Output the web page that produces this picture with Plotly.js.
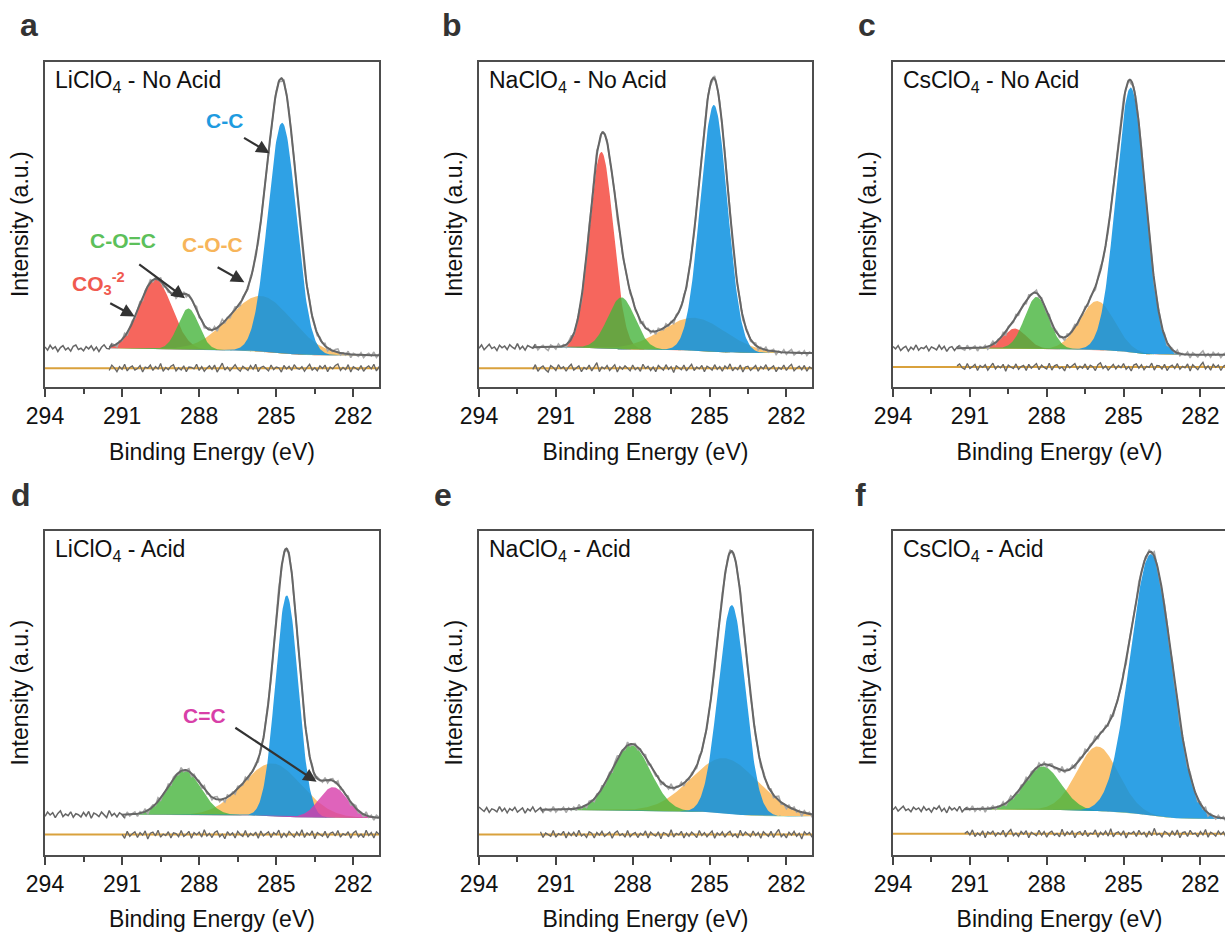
<!DOCTYPE html>
<html><head><meta charset="utf-8">
<script src="https://cdn.plot.ly/plotly-3.0.1.min.js"></script>
<style>html,body{margin:0;padding:0;overflow:hidden;background:#fff}</style>
</head><body><div id="chart" style="width:1230px;height:932px"></div>
<script>
// ---------------- data ----------------
const panelLetters = ['a','b','c','d','e','f'];
const panelTitles = ['LiClO<sub>4</sub> - No Acid','NaClO<sub>4</sub> - No Acid','CsClO<sub>4</sub> - No Acid',
                     'LiClO<sub>4</sub> - Acid','NaClO<sub>4</sub> - Acid','CsClO<sub>4</sub> - Acid'];
const xTicks = [294, 291, 288, 285, 282];
const xMinorTicks = [292.5, 289.5, 286.5, 283.5];
const xRange = [294, 281];

// fitted components: name, centre (eV), height (a.u.), FWHM (eV)
const peakNames   = [['CO3','C-O-C','C-O=C','C-C'], ['CO3','C-O-C','C-O=C','C-C'], ['CO3','C-O-C','C-O=C','C-C'],
                     ['C-O-C','C-O=C','C-C','C=C'], ['C-O-C','C-O=C','C-C'], ['C-O-C','C-O=C','C-C']];
const peakCenters = [[289.70,285.60,288.42,284.77], [289.22,285.60,288.44,284.83], [289.25,286.03,288.39,284.72],
                     [285.15,288.58,284.59,282.78], [284.40,288.06,284.13], [286.01,288.16,283.93]];
const peakHeights = [[21.4,17.0,12.7,71.0], [60.5,10.0,16.0,76.0], [6.1,15.0,16.0,81.6],
                     [16.2,13.7,68.4,9.5], [17.0,20.2,64.6], [20.0,13.4,80.8]];
const peakFwhm    = [[1.50,2.90,0.95,1.30], [1.10,3.00,1.25,1.25], [1.10,1.60,1.10,1.35],
                     [2.70,1.55,1.05,1.30], [3.10,1.80,1.24], [1.90,1.70,1.90]];
const fitStart      = [291.5, 291.9, 291.5, 291.0, 291.6, 291.2];
const bgHigh        = [11.8, 12.1, 11.8, 12.3, 13.8, 14.0];
const bgLow         = [9.6, 10.3, 9.8, 11.3, 11.8, 11.0];
const residualLevel = [5.65, 5.65, 6.0, 6.2, 6.2, 6.4];

// measured noise / fit residual, sampled every 0.1 eV from 294 eV
const noiseStart = 294, noiseStep = 0.1;
const noiseA = [0.4,-0.6,0.9,-0.2,0.5,-1.0,0.2,0.8,-0.5,0.1,-0.9,0.6,1.0,-0.4,0.0,-0.8,0.5,-0.2,0.7,-0.7,0.3,-1.1,0.2,0.9,
-0.3,-0.6,0.8,0.1,-0.9,0.4,-0.3,1.0,-0.7,0.2,0.6,-0.5,-0.1,0.7,-1.0,0.3,0.0,0.8,-0.6,0.4,-0.2,1.2,-0.8,0.2,
-0.4,0.5,0.9,-0.7,0.1,-0.5,0.6,-0.9,0.3,0.2,-0.2,1.0,-0.6,0.4,-0.8,0.0,0.6,-0.3,0.8,-1.0,0.2,1.3,-0.5,0.3,
-0.7,0.1,0.9,-0.2,-0.8,0.5,0.0,-0.6,0.7,-0.3,1.0,-0.9,0.2,0.5,-0.1,-0.7,0.8,-0.4,0.3,0.1,-1.0,0.7,-0.2,0.5,
-0.6,0.9,0.0,-0.3,0.4,-0.8,0.2,1.0,-0.5,0.1,-0.7,0.6,-0.1,0.8,-0.9,0.3,-0.2,0.7,1.1,-0.6,0.2,-0.4,0.9,-1.0,
0.4,0.0,-0.5,0.7,-0.8,0.1,0.6,-0.2,1.0,-0.7,0.3,-0.1];
const noiseB = [-0.3,0.7,-0.8,0.2,0.9,-0.4,0.1,-1.0,0.6,-0.2,0.4,-0.7,0.8,0.0,-0.5,1.1,-0.6,0.3,-0.9,0.5,0.2,-0.3,0.9,-0.8,
0.1,0.6,-0.4,-1.0,0.7,0.2,-0.6,0.9,-0.1,0.4,-0.8,0.3,1.0,-0.5,0.0,0.6,-0.9,0.2,-0.3,0.8,-0.7,0.5,1.4,-0.9,
0.3,-0.2,0.7,-0.6,0.1,0.9,-1.0,0.4,-0.3,0.6,0.0,-0.7,0.8,-0.4,0.2,-0.8,1.0,-0.1,0.5,-0.6,0.3,-0.9,0.7,0.1,
-0.5,0.9,-0.3,0.4,-1.1,0.6,0.0,-0.4,0.8,-0.7,0.2,1.0,-0.6,0.3,-0.2,0.7,-0.9,0.5,0.1,-0.5,0.9,-0.3,0.4,-0.8,
0.6,-0.1,1.1,-0.7,0.2,-0.4,0.8,-1.0,0.3,0.5,-0.6,0.0,0.7,-0.8,0.4,-0.2,0.9,-0.5,0.1,0.6,-0.9,0.2,-0.3,0.8,
-0.6,0.4,1.0,-0.7,0.0,0.5,-0.4,0.7,-0.8,0.3,-0.1,0.6];
const noiseC = [0.5,-0.2,0.8,-0.7,0.1,0.6,-0.9,0.3,-0.4,1.0,-0.6,0.2,-0.1,0.7,-0.8,0.4,0.0,-0.5,0.9,-0.3,0.6,-1.0,0.2,0.5,
-0.7,0.3,0.8,-0.2,-0.6,0.9,-0.4,0.1,0.7,-0.9,0.4,-0.1,0.6,-0.8,0.2,1.0,-0.5,0.3,-0.2,0.7,-1.1,0.5,0.0,-0.4,
0.8,-0.6,0.1,0.4,-0.9,0.7,-0.3,0.2,0.9,-0.7,0.5,-0.1,-0.5,1.0,-0.8,0.3,0.6,-0.4,0.0,-1.0,0.7,-0.2,0.4,0.9,
-0.6,0.2,-0.3,0.8,-0.7,0.5,0.1,-0.9,0.6,1.1,-0.4,0.3,-0.8,0.0,0.7,-0.5,0.4,-0.2,0.9,-0.6,0.1,-1.0,0.5,0.8,
-0.3,0.6,-0.7,0.2,-0.1,1.0,-0.8,0.4,0.3,-0.5,0.7,-0.9,0.1,0.5,-0.4,0.9,-0.6,0.2,-0.2,0.8,-1.0,0.6,0.0,-0.7,
0.4,1.2,-0.5,0.3,-0.8,0.7,-0.1,0.5,-0.9,0.2,0.6,-1.1];
const noiseD = [-0.5,0.8,-0.1,0.6,-0.9,0.4,1.2,-0.6,0.2,-0.3,0.9,-0.8,0.3,0.0,-0.7,0.7,-0.4,1.0,-1.1,0.5,0.1,-0.6,0.8,-0.2,
-0.9,1.3,-0.3,0.4,-0.7,0.6,0.0,-1.0,0.8,-0.5,0.2,0.7,-0.8,0.5,-0.2,0.9,-1.2,0.3,0.6,-0.4,1.1,-0.7,0.1,-0.3,
0.7,-0.9,0.4,0.2,-0.6,1.0,-0.5,0.0,0.8,-1.0,0.5,-0.1,0.6,-0.7,1.2,-0.4,0.3,-0.8,0.5,0.9,-0.6,0.1,-1.1,0.7,
-0.2,0.4,-0.9,0.8,0.0,-0.5,1.0,-0.7,0.3,-0.3,0.6,-1.0,0.9,-0.4,0.2,0.7,-0.8,0.5,-0.1,1.1,-0.9,0.3,-0.6,0.8,
0.0,-0.7,0.6,-0.3,1.2,-0.8,0.4,-0.2,0.9,-1.1,0.5,0.1,-0.5,0.8,-0.9,0.3,0.6,-0.4,1.0,-0.7,0.2,-0.2,0.7,-1.0,
0.4,0.9,-0.6,0.1,-0.8,1.1,-0.3,0.5,-0.9,0.7,0.2,-0.5];
const noiseE = [0.9,0.2,-0.5,0.7,-0.8,0.3,0.0,-0.6,1.0,-0.4,0.5,-0.9,0.4,-0.2,0.8,-0.7,0.1,0.6,-1.0,0.3,-0.3,0.9,-0.6,0.2,
0.7,-0.8,0.4,0.0,-0.5,1.0,-0.7,0.2,-0.1,0.8,-0.9,0.5,-0.3,0.6,-0.6,1.1,-0.4,0.1,-0.8,0.7,0.3,-0.9,0.5,-0.2,
0.8,-0.5,0.0,0.6,-1.0,0.4,0.9,-0.3,0.2,-0.7,1.0,-0.6,0.1,0.5,-0.8,0.3,-0.2,0.9,-0.9,0.6,0.0,-0.4,0.7,-1.1,
0.5,0.2,-0.6,1.2,-0.7,0.3,-0.1,0.8,-0.9,0.4,-0.5,0.6,0.0,-0.8,1.0,-0.3,0.5,-0.6,0.2,0.9,-1.0,0.4,-0.2,0.7,
-0.7,0.3,0.8,-0.5,0.1,-0.9,1.1,-0.4,0.6,-0.1,-0.6,0.9,-0.3,0.5,-1.0,0.7,0.2,-0.5,0.8,-0.8,0.4,1.3,-0.6,0.1,
-0.9,0.6,-0.2,0.8,-0.5,0.3,-1.2,0.7,0.0,0.5,-0.7,0.4];
const noiseF = [-0.2,0.7,-0.6,0.3,0.9,-0.4,0.1,-0.8,0.6,-0.1,0.4,-0.7,0.8,-0.3,0.2,-0.9,0.5,0.0,1.0,-0.6,0.3,-1.1,0.7,-0.2,
0.4,-0.5,0.9,-0.8,0.1,0.6,-0.3,1.0,-0.7,0.2,-0.4,0.8,-1.0,0.5,0.0,0.7,-0.6,0.3,-0.2,0.9,-0.8,0.4,1.1,-0.5,
0.2,-0.7,0.6,-0.1,0.8,-1.0,0.4,0.0,-0.5,0.9,-0.3,0.6,-0.9,0.3,0.7,-0.4,0.1,-0.8,1.2,-0.6,0.5,-0.2,0.8,-1.0,
0.3,0.6,-0.5,0.9,-0.7,0.2,-0.1,1.0,-0.9,0.4,-0.3,0.7,-0.6,1.3,-0.8,0.2,0.5,-0.4,0.8,-1.1,0.3,0.0,0.6,-0.7,
0.9,-0.2,0.4,-0.9,0.7,-0.5,1.4,-0.3,0.1,-0.8,0.6,0.2,-0.6,0.8,-0.4,1.0,-1.0,0.3,0.5,-0.7,0.9,-0.1,0.2,-0.8,
0.6,-0.3,1.1,-0.9,0.4,0.0,-0.6,0.7,-0.2,0.5,-1.0,0.3];
const panelNoise = [noiseA, noiseB, noiseC, noiseD, noiseE, noiseF];

// ---------------- styles ----------------
const peakFill = {'CO3':'rgba(245,75,65,0.85)','C-O-C':'rgba(250,180,80,0.8)','C-O=C':'rgba(70,180,60,0.8)',
                  'C-C':'rgba(10,145,225,0.85)','C=C':'rgba(215,60,170,0.8)'};
const drawOrder = ['CO3','C-O-C','C-O=C','C-C','C=C'];
const FONT = 'Liberation Sans, Arial, Helvetica, sans-serif';
const W = 1230, H = 932;
const colL = [45, 479, 893], colR = [379, 812, 1226];
const rowT = [62, 531], rowB = [386.5, 854.5];
const letterX = [29, 452, 867, 21, 443, 860], letterY = [25, 25, 25, 495, 495, 495];

// ---------------- helpers ----------------
const LN2 = Math.log(2);
function gauss(x, c, h, w){ return h*Math.exp(-4*LN2*(x-c)*(x-c)/(w*w)); }
function erf(x){const s=Math.sign(x);x=Math.abs(x);const t=1/(1+0.3275911*x);
  const y=1-(((((1.061405429*t-1.453152027)*t)+1.421413741)*t-0.284496736)*t+0.254829592)*t*Math.exp(-x*x);return s*y;}
function areaFromLow(x, p){ // integrated component intensity between low-BE end and x
  let a=0; const lo=xRange[1];
  for(let k=0;k<peakCenters[p].length;k++){
    const c=peakCenters[p][k],h=peakHeights[p][k],w=peakFwhm[p][k],kk=2*Math.sqrt(LN2)/w;
    a+=h*Math.sqrt(Math.PI)/(2*kk)*(erf(kk*(x-c))-erf(kk*(lo-c)));
  }
  return a;
}
function background(x, p){ // Shirley-type background
  const tot=areaFromLow(fitStart[p],p);
  const f=Math.min(1,Math.max(0,areaFromLow(x,p)/tot));
  return bgLow[p]+(bgHigh[p]-bgLow[p])*f;
}
function envelope(x,p){ let s=background(x,p); for(let k=0;k<peakCenters[p].length;k++) s+=gauss(x,peakCenters[p][k],peakHeights[p][k],peakFwhm[p][k]); return s; }

const traces=[], annotations=[], layout={};
for(let p=0;p<6;p++){
  const r=Math.floor(p/3), c=p%3, sfx=p===0?'':String(p+1);
  const xa='x'+sfx, ya='y'+sfx;
  const fine=[]; for(let e=fitStart[p]; e>=xRange[1]-1e-9; e-=0.025) fine.push(e);
  const bgF=fine.map(e=>background(e,p));
  const nz=panelNoise[p];
  const xs=nz.map((v,i)=>noiseStart-noiseStep*i);
  const fitIdx=xs.map((e,i)=>i).filter(i=>xs[i]<=fitStart[p]+1e-9);
  const preIdx=xs.map((e,i)=>i).filter(i=>xs[i]>=fitStart[p]-noiseStep-1e-9);
  // residual band
  const rx=fitIdx.map(i=>xs[i]), ry=fitIdx.map(i=>residualLevel[p]+1.2*nz[i]);
  traces.push({x:rx.concat(rx.slice().reverse()), y:ry.concat(rx.map(()=>residualLevel[p])), xaxis:xa, yaxis:ya,
    mode:'lines', fill:'toself', fillcolor:'rgba(250,190,100,0.5)', line:{width:0}, hoverinfo:'skip', showlegend:false});
  traces.push({x:xRange.slice(), y:[residualLevel[p],residualLevel[p]], xaxis:xa, yaxis:ya, mode:'lines',
    line:{color:'#d9a13c',width:2}, hoverinfo:'skip', showlegend:false});
  traces.push({x:rx, y:ry, xaxis:xa, yaxis:ya, mode:'lines', line:{color:'#666',width:1.3}, hoverinfo:'skip', showlegend:false});
  // components
  const order=peakNames[p].map((n,k)=>k).sort((a,b)=>drawOrder.indexOf(peakNames[p][a])-drawOrder.indexOf(peakNames[p][b]));
  for(const k of order){
    const top=fine.map((e,i)=>bgF[i]+gauss(e,peakCenters[p][k],peakHeights[p][k],peakFwhm[p][k]));
    traces.push({x:fine.concat(fine.slice().reverse()), y:top.concat(bgF.slice().reverse()), xaxis:xa, yaxis:ya,
      mode:'lines', fill:'toself', fillcolor:peakFill[peakNames[p][k]], line:{width:0}, hoverinfo:'skip', showlegend:false});
  }
  // raw data
  traces.push({x:rx, y:fitIdx.map(i=>envelope(xs[i],p)+nz[i]), xaxis:xa, yaxis:ya, mode:'lines',
    line:{color:'#a9a9a9',width:1.6}, hoverinfo:'skip', showlegend:false});
  traces.push({x:preIdx.map(i=>xs[i]), y:preIdx.map(i=>envelope(xs[i],p)+nz[i]), xaxis:xa, yaxis:ya, mode:'lines',
    line:{color:'#666',width:1.5}, hoverinfo:'skip', showlegend:false});
  // fit envelope
  traces.push({x:fine, y:fine.map(e=>envelope(e,p)), xaxis:xa, yaxis:ya, mode:'lines',
    line:{color:'#666',width:2}, hoverinfo:'skip', showlegend:false});

  layout['xaxis'+sfx]={domain:[colL[c]/W,colR[c]/W], anchor:ya, range:xRange, tickmode:'array', tickvals:xTicks,
    ticks:'outside', ticklen:8, tickwidth:2, tickcolor:'#444', showline:true, linecolor:'#4d4d4d', linewidth:2, mirror:true,
    showgrid:false, zeroline:false, automargin:false, tickfont:{family:FONT,size:23,color:'#111'},
    minor:{tickmode:'array', tickvals:xMinorTicks, ticks:'outside', ticklen:5, tickwidth:2, tickcolor:'#444', showgrid:false},
    title:{text:'Binding Energy (eV)', font:{family:FONT,size:23,color:'#111'}, standoff:16}};
  layout['yaxis'+sfx]={domain:[1-rowB[r]/H,1-rowT[r]/H], anchor:xa, range:[0,100], showticklabels:false, ticks:'',
    showline:true, linecolor:'#4d4d4d', linewidth:2, mirror:true, showgrid:false, zeroline:false, automargin:false,
    title:{text:'Intensity (a.u.)', font:{family:FONT,size:23,color:'#111'}, standoff:8}};
  annotations.push({xref:xa+' domain', yref:ya+' domain', x:0.025, y:0.94, xanchor:'left', yanchor:'middle',
    text:panelTitles[p], showarrow:false, font:{family:FONT,size:23,color:'#111'}});
  annotations.push({xref:'paper', yref:'paper', x:letterX[p]/W, y:1-letterY[p]/H, xanchor:'center', yanchor:'middle',
    text:'<b>'+panelLetters[p]+'</b>', showarrow:false, font:{family:FONT,size:32,color:'#333'}});
}

// peak labels with arrows (panels a and d)
function label(xa,ya,x,y,text,color){annotations.push({xref:xa,yref:ya,x:x,y:y,text:'<b>'+text+'</b>',showarrow:false,
  font:{family:FONT,size:21,color:color}});}
function arrow(xa,ya,x0,y0,x1,y1){annotations.push({xref:xa,yref:ya,axref:xa,ayref:ya,x:x1,y:y1,ax:x0,ay:y0,text:'',
  showarrow:true,arrowhead:2,arrowsize:1.2,arrowwidth:2.2,arrowcolor:'#333'});}
label('x','y',287.0,82.1,'C-C','#1e9be0');            arrow('x','y',286.31,76.9,285.26,71.9);
label('x','y',287.5,43.8,'C-O-C','#f7b55a');          arrow('x','y',287.34,37.0,286.24,32.1);
label('x','y',290.98,45.1,'C-O=C','#5cc05a');         arrow('x','y',290.39,38.0,288.55,27.2);
label('x','y',291.9,31.8,'CO<sub>3</sub><sup>-2</sup>','#f05a50'); arrow('x','y',291.52,25.9,290.51,21.6);
label('x4','y4',287.81,42.9,'C=C','#d83fa8');         arrow('x4','y4',286.65,39.5,283.43,22.5);

Object.assign(layout,{width:W,height:H,margin:{l:0,r:0,t:0,b:0},paper_bgcolor:'#fff',plot_bgcolor:'#fff',
  showlegend:false,annotations:annotations,font:{family:FONT}});
Plotly.newPlot('chart',traces,layout,{staticPlot:true});
</script></body></html>
